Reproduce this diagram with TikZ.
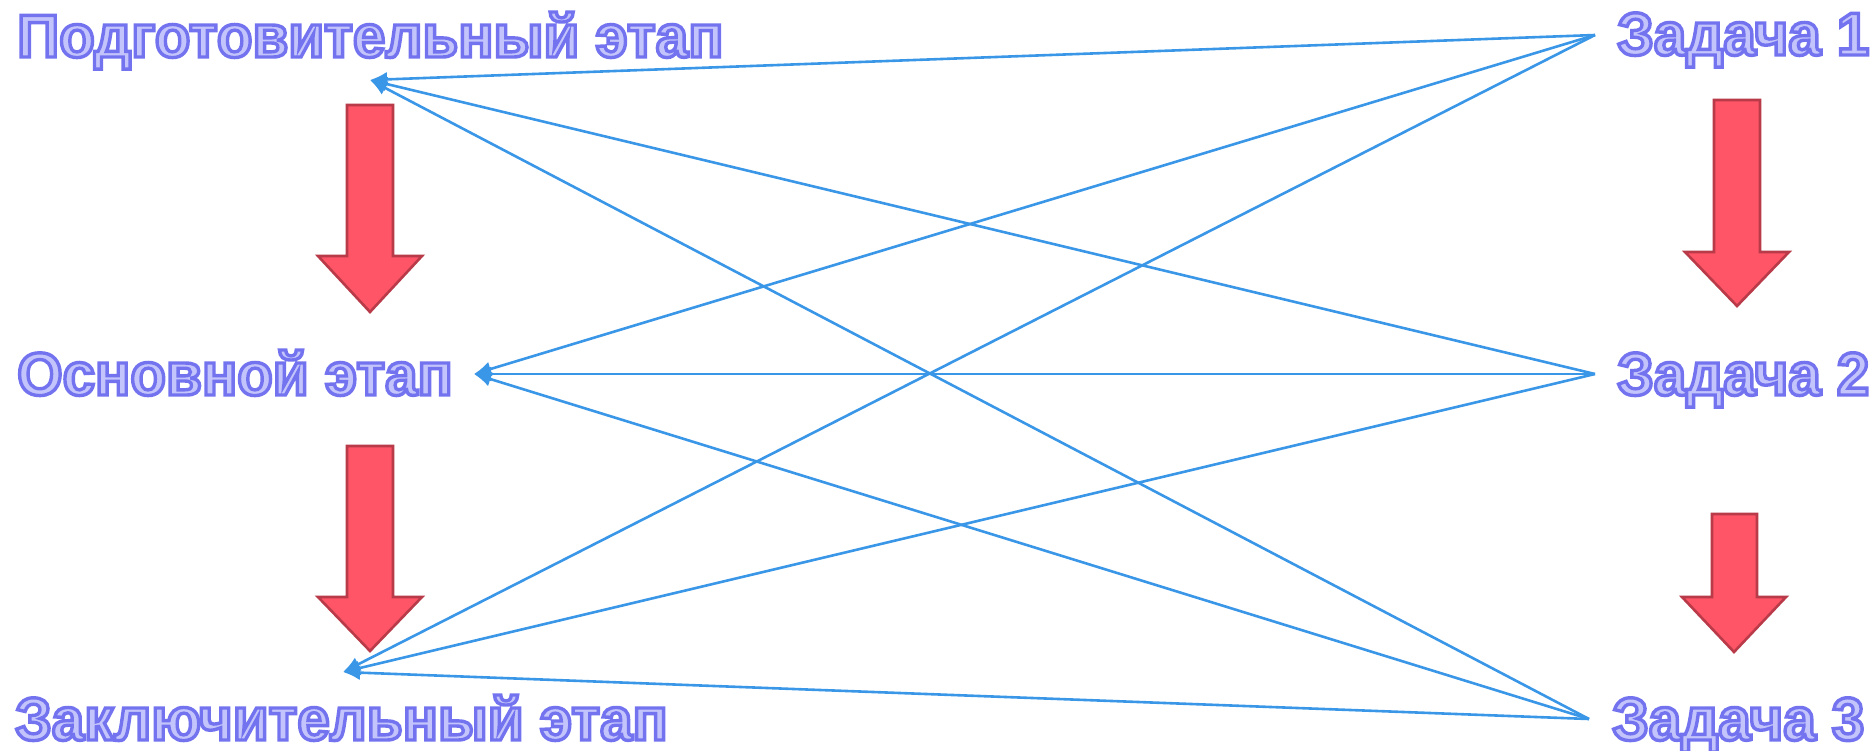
\documentclass[tikz,border=0pt]{standalone}
\usepackage{fontspec}
\setmainfont[FakeStretch=0.965]{Liberation Sans}
\definecolor{txtfill}{RGB}{196,196,252}
\definecolor{linkblue}{RGB}{58,150,230}
\definecolor{redfill}{RGB}{255,85,102}
\definecolor{redline}{RGB}{185,58,72}
\newcommand\outlinedtext[1]{\special{pdf:literal direct 2 Tr 3.4 w 0.45 0.45 0.94 RG}#1\special{pdf:literal direct 0 Tr}}
\tikzset{
  label/.style={inner sep=0pt, anchor=base west, text=txtfill,
    font=\fontsize{60.5}{70}\selectfont\bfseries},
  link/.style={draw=linkblue, line width=2.6pt, -{Latex[length=17pt,width=15pt]}},
  redarrow/.style={fill=redfill, draw=redline, line width=2.6pt, line join=miter},
}
\usetikzlibrary{arrows.meta}
\begin{document}
\begin{tikzpicture}[x=1pt,y=-1pt]
\useasboundingbox (0,0) rectangle (1873,750);
% labels
\node[label] (p) at (17,57) {\outlinedtext{Подготовительный этап}};
\node[label] (o) at (17,395) {\outlinedtext{Основной этап}};
\node[label] (z) at (15,740) {\outlinedtext{Заключительный этап}};
\node[label] (t1) at (1617,55) {\outlinedtext{Задача 1}};
\node[label] (t2) at (1617,395) {\outlinedtext{Задача 2}};
\node[label] (t3) at (1612,740) {\outlinedtext{Задача 3}};
% connector ends
\coordinate (a1) at (370,80);
\coordinate (a2) at (474,374);
\coordinate (a3) at (343,672);
\coordinate (r1) at (1595,35);
\coordinate (r2) at (1595,374);
\coordinate (r3) at (1589,719);
% red arrows
\draw[redarrow] (347,105) -- (393,105) -- (393,256) -- (422,256) -- (370,312) -- (318,256) -- (347,256) -- cycle;
\draw[redarrow] (347,446) -- (393,446) -- (393,597) -- (422,597) -- (370,651) -- (318,597) -- (347,597) -- cycle;
\draw[redarrow] (1714,100) -- (1760,100) -- (1760,252) -- (1789,252) -- (1737,306) -- (1685,252) -- (1714,252) -- cycle;
\draw[redarrow] (1712,514) -- (1757,514) -- (1757,597) -- (1786,597) -- (1734,652) -- (1682,597) -- (1712,597) -- cycle;
% links
\foreach \r in {r1,r2,r3}{
  \foreach \a in {a1,a2,a3}{
    \draw[link] (\r) -- (\a);
  }
}
\end{tikzpicture}
\end{document}
